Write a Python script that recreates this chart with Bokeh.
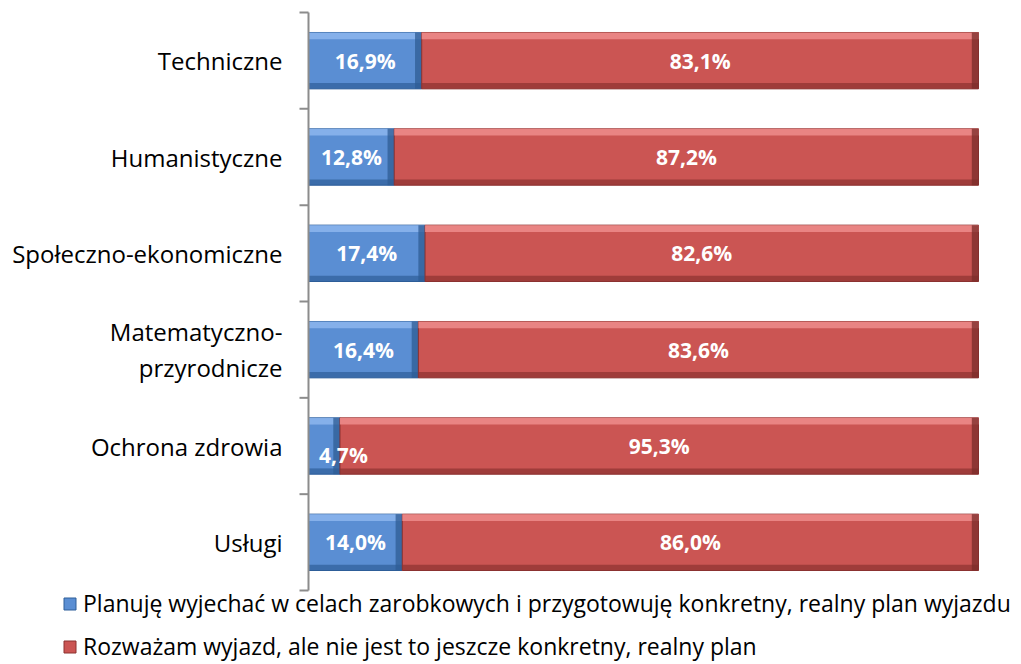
import math
from bokeh.plotting import figure
from bokeh.models import ColumnDataSource, Legend, LegendItem, Range1d
from bokeh.core.properties import value
from bokeh.embed import file_html
from bokeh.resources import INLINE

categories = ["Techniczne", "Humanistyczne", "Społeczno-ekonomiczne",
              "Matematyczno-\nprzyrodnicze", "Ochrona zdrowia", "Usługi"]
planuje = [16.9, 12.8, 17.4, 16.4, 4.7, 14.0]
rozwazam = [83.1, 87.2, 82.6, 83.6, 95.3, 86.0]
series_names = ["Planuję wyjechać w celach zarobkowych i przygotowuję konkretny, realny plan wyjazdu",
                "Rozważam wyjazd, ale nie jest to jeszcze konkretny, realny plan"]

FONT = "Open Sans"
n = len(categories)
ys = [n - 1 - i for i in range(n)]  # top to bottom

# layout (pixels)
W, HT = 1020, 663
X0PX, X1PX = 308, 978
Y_TOP, Y_BOT = 12, 590
xs_scale = (X1PX - X0PX) / 100.0
ys_scale = (Y_BOT - Y_TOP) / float(n)
x_range = Range1d(-X0PX / xs_scale, (W - X0PX) / xs_scale)
y_range = Range1d(-0.5 - (HT - Y_BOT) / ys_scale, (n - 0.5) + Y_TOP / ys_scale)

p = figure(width=W, height=HT, output_backend="svg", toolbar_location=None,
           x_range=x_range, y_range=y_range,
           min_border_left=0, min_border_right=0, min_border_top=0, min_border_bottom=0)
p.outline_line_color = None
p.grid.visible = False
p.axis.visible = False
p.background_fill_color = "white"
p.border_fill_color = "white"

H = 0.585
styles = [
    dict(body="#5A8ED3", top="#8AB4EC", bot="#2E5E99", end="#2F5C94"),
    dict(body="#CB5553", top="#EC8A88", bot="#8C3230", end="#7A2C2A"),
]

lefts = [[0.0] * n, list(planuje)]
rights = [list(planuje), [a + b for a, b in zip(planuje, rozwazam)]]
vals = [planuje, rozwazam]
main_renderers = []
for s in range(2):
    st = styles[s]
    L, R = lefts[s], rights[s]
    src = ColumnDataSource(dict(y=ys, left=L, right=R))
    r = p.hbar(y="y", left="left", right="right", height=H, source=src,
               fill_color=st["body"], line_color=st["bot"], line_width=1)
    main_renderers.append(r)
    # bevel: top highlight, bottom shadow, right-end shade
    p.quad(left=L, right=R, top=[y + H / 2 for y in ys], bottom=[y + H / 2 - 0.07 for y in ys],
           fill_color=st["top"], line_color=None, fill_alpha=0.9)
    p.quad(left=L, right=R, top=[y - H / 2 + 0.06 for y in ys], bottom=[y - H / 2 for y in ys],
           fill_color=st["bot"], line_color=None, fill_alpha=0.7)
    p.quad(left=[max(l, r_ - 1.0) for l, r_ in zip(L, R)], right=R,
           top=[y + H / 2 for y in ys], bottom=[y - H / 2 for y in ys],
           fill_color=st["end"], line_color=None, fill_alpha=0.75)

def fmt(v):
    return f"{v:.1f}%".replace(".", ",")

# data labels
for s in range(2):
    xs, yy, txt = [], [], []
    for i in range(n):
        c = (lefts[s][i] + rights[s][i]) / 2
        y = ys[i]
        if vals[s][i] < 8:
            c = lefts[s][i] + 5.2
            y = ys[i] - 0.09
        xs.append(c); yy.append(y); txt.append(fmt(vals[s][i]))
    p.text(x=xs, y=yy, text=txt, text_color="white", text_font=value(FONT),
           text_font_style="bold", text_font_size="21px", text_align="center",
           text_baseline="middle")

# category axis: line, boundary ticks and labels
bounds = [k - 0.5 for k in range(n + 1)]
p.segment(x0=[0], y0=[bounds[0]], x1=[0], y1=[bounds[-1]], line_color="#8C8C8C", line_width=2)
p.ray(x=[0] * len(bounds), y=bounds, length=9, length_units="screen", angle=math.pi,
      line_color="#8C8C8C", line_width=2)
p.text(x=[0] * n, y=ys, text=categories, x_offset=-26, text_align="right",
       text_baseline="middle", text_font=value(FONT), text_font_size="24px",
       text_color="black", text_line_height=1.1)

legend = Legend(items=[LegendItem(label=series_names[0], renderers=[main_renderers[0]]),
                       LegendItem(label=series_names[1], renderers=[main_renderers[1]])],
                location=(62, 1), orientation="vertical",
                label_text_font=FONT, label_text_font_size="23px", label_text_color="black",
                glyph_width=15, glyph_height=15, label_height=22, spacing=11, label_standoff=6,
                border_line_color=None, background_fill_alpha=0, padding=0, margin=0)
p.add_layout(legend, "center")

open("out.html", "w").write(file_html(p, INLINE))
